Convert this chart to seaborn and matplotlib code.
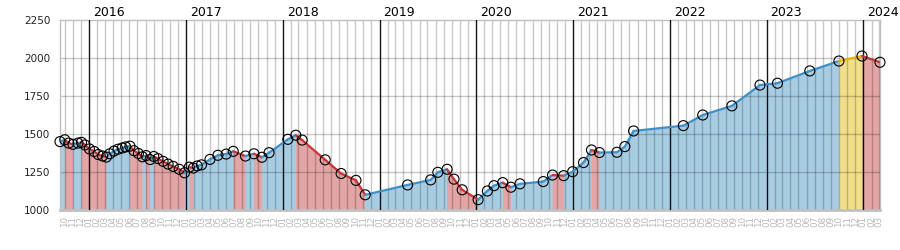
import numpy as np
import pandas as pd
import matplotlib
matplotlib.use("Agg")
import matplotlib.pyplot as plt
import matplotlib.dates as mdates
import matplotlib.transforms as mtransforms
import seaborn as sns

# ---- data ----
dates = [
    "2015-09-13", "2015-10-01", "2015-10-16", "2015-11-01", "2015-11-20", "2015-12-03", "2015-12-16",
    "2016-01-02", "2016-01-20", "2016-02-04", "2016-02-21", "2016-03-06", "2016-03-19", "2016-04-04",
    "2016-04-19", "2016-05-05", "2016-05-18", "2016-06-03", "2016-06-18", "2016-07-05", "2016-07-20",
    "2016-08-03", "2016-08-18", "2016-09-01", "2016-09-17", "2016-10-06", "2016-10-25", "2016-11-13",
    "2016-12-06", "2016-12-26",
    "2017-01-13", "2017-01-28", "2017-02-12", "2017-02-28", "2017-04-01", "2017-05-01", "2017-06-01",
    "2017-06-28", "2017-08-13", "2017-09-14", "2017-10-14", "2017-11-10",
    "2018-01-20", "2018-02-19", "2018-03-15", "2018-06-10", "2018-08-09", "2018-10-04", "2018-11-08",
    "2019-04-17", "2019-07-13", "2019-08-09", "2019-09-13", "2019-10-09", "2019-11-09",
    "2020-01-08", "2020-02-12", "2020-03-08", "2020-04-10", "2020-05-11", "2020-06-14", "2020-09-10",
    "2020-10-15", "2020-11-26", "2020-12-30",
    "2021-02-09", "2021-03-11", "2021-04-10", "2021-06-15", "2021-07-15", "2021-08-17",
    "2022-02-21", "2022-05-05", "2022-08-23", "2022-12-07",
    "2023-02-11", "2023-06-13", "2023-10-01", "2023-12-27",
    "2024-03-04",
]
ratings = [
    1450, 1462, 1440, 1432, 1440, 1445, 1428,
    1402, 1385, 1365, 1355, 1348, 1370, 1388,
    1400, 1408, 1415, 1420, 1390, 1372, 1350,
    1358, 1332, 1352, 1338, 1320, 1302, 1287,
    1268, 1245,
    1282, 1276, 1290, 1297, 1333, 1360, 1368,
    1386, 1355, 1370, 1347, 1377,
    1465, 1492, 1460, 1330, 1240, 1195, 1100,
    1165, 1198, 1248, 1268, 1203, 1133,
    1068, 1125, 1160, 1180, 1150, 1172, 1187,
    1230, 1226, 1252,
    1312, 1395, 1378, 1380, 1417, 1520,
    1555, 1625, 1685, 1822,
    1834, 1915, 1980, 2013,
    1972,
]
# segments (by start date) drawn in the yellow "held" colour
held_segments = ["2023-10-01"]

y_ticks = [1000, 1250, 1500, 1750, 2000, 2250]
years = [2016, 2017, 2018, 2019, 2020, 2021, 2022, 2023, 2024]

# ---- styling ----
sns.set_theme(style="white")
plt.rcParams["font.family"] = ["DejaVu Sans"]

FILL = {"up": "#a8cde3", "down": "#e3a5a5", "held": "#f2df8a"}
LINE = {"up": "#3d90c8", "down": "#cc3333", "held": "#e8b400"}

fig = plt.figure(figsize=(9, 2.5), dpi=100)
ax = fig.add_axes([60 / 900, 40 / 250, 820 / 900, 190 / 250])

x = mdates.date2num(pd.to_datetime(dates))
v = np.array(ratings, dtype=float)
ymin, ymax = y_ticks[0], y_ticks[-1]

for i in range(len(x) - 1):
    if dates[i] in held_segments:
        kind = "held"
    else:
        kind = "up" if v[i + 1] >= v[i] else "down"
    ax.fill_between([x[i], x[i + 1]], [v[i], v[i + 1]], ymin,
                    facecolor=FILL[kind], edgecolor=FILL[kind], lw=0.6, zorder=1)
    seg = pd.DataFrame({"x": [x[i], x[i + 1]], "y": [v[i], v[i + 1]]})
    sns.lineplot(data=seg, x="x", y="y", color=LINE[kind], lw=1.6,
                 ax=ax, zorder=4, estimator=None, sort=False)

sns.scatterplot(x=x, y=v, s=52, facecolor="none", edgecolor="black",
                linewidth=0.8, ax=ax, zorder=5)
ax.collections[-1].set_clip_on(False)

# grid: monthly lines (darkening whatever is beneath), black year lines
months = pd.date_range("2015-09-01", "2024-04-01", freq="MS")
mnum = mdates.date2num(months)
inside = (mnum >= x[0]) & (mnum <= x[-1])
for m, d in zip(mnum[inside], months[inside]):
    if d.month == 1:
        ax.axvline(m, color="black", lw=1.0, alpha=0.92, zorder=3)
    else:
        ax.axvline(m, color="black", lw=1.0, alpha=0.21, zorder=2)
for yv in y_ticks[1:-1]:
    ax.axhline(yv, color="black", lw=1.0, alpha=0.21, zorder=2)

ax.set_xlim(x[0], x[-1])
ax.set_ylim(ymin, ymax)
ax.set_xlabel("")
ax.set_ylabel("")

ax.set_xticks(mnum[inside])
ax.set_xticklabels([d.strftime("%m") for d in months[inside]],
                   rotation=90, fontsize=6.3, color="#b8b8b8")
offset = mtransforms.ScaledTranslation(3 / 100, 0, fig.dpi_scale_trans)
for lbl in ax.get_xticklabels():
    lbl.set_transform(lbl.get_transform() + offset)
ax.tick_params(axis="x", length=0, pad=4)

ax.set_yticks(y_ticks)
ax.set_yticklabels([str(t) for t in y_ticks], fontsize=7.5, color="#222222")
ax.tick_params(axis="y", length=0, pad=7)

for s in ax.spines.values():
    s.set_color("#c0c0c0")
    s.set_linewidth(1.0)
ax.spines["bottom"].set_linewidth(2.0)

ytrans = ax.transData + mtransforms.ScaledTranslation(4 / 100, 4 / 100, fig.dpi_scale_trans)
for yr in years:
    ax.text(mdates.date2num(pd.Timestamp(f"{yr}-01-01")), ymax, str(yr),
            transform=ytrans, ha="left", va="baseline", fontsize=9,
            color="black", clip_on=False)

fig.savefig("out.png", dpi=100)
